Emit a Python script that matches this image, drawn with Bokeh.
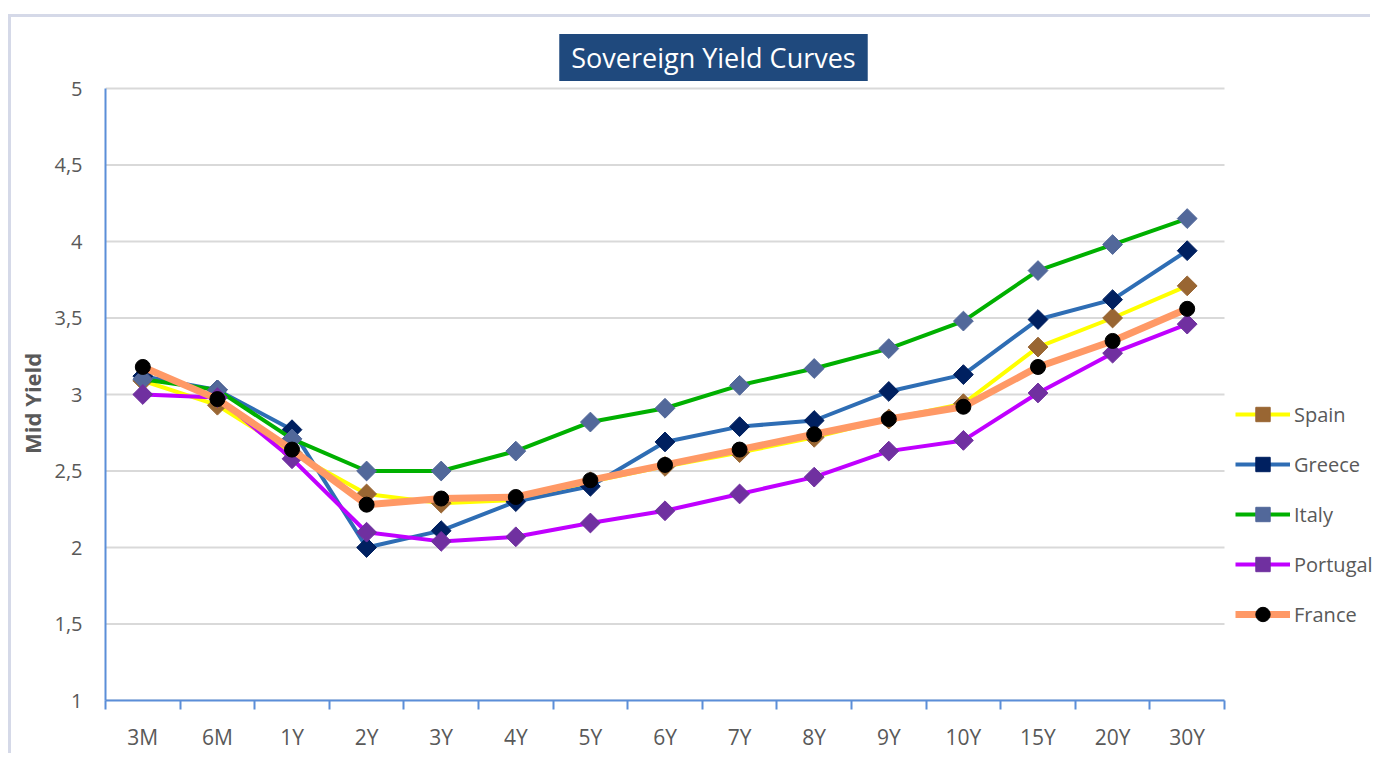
from bokeh.plotting import figure
from bokeh.models import (Range1d, FixedTicker, CustomJSTickFormatter, Legend, LegendItem,
                          ColumnDataSource, Label)
from bokeh.embed import file_html
from bokeh.resources import INLINE

tenors = ["3M", "6M", "1Y", "2Y", "3Y", "4Y", "5Y", "6Y", "7Y", "8Y", "9Y", "10Y", "15Y", "20Y", "30Y"]
spain =    [3.09, 2.93, 2.62, 2.35, 2.29, 2.31, 2.43, 2.53, 2.62, 2.72, 2.84, 2.94, 3.31, 3.50, 3.71]
greece =   [3.12, 3.03, 2.77, 2.00, 2.11, 2.30, 2.40, 2.69, 2.79, 2.83, 3.02, 3.13, 3.49, 3.62, 3.94]
italy =    [3.10, 3.03, 2.71, 2.50, 2.50, 2.63, 2.82, 2.91, 3.06, 3.17, 3.30, 3.48, 3.81, 3.98, 4.15]
portugal = [3.00, 2.98, 2.58, 2.10, 2.04, 2.07, 2.16, 2.24, 2.35, 2.46, 2.63, 2.70, 3.01, 3.27, 3.46]
france =   [3.18, 2.97, 2.64, 2.28, 2.32, 2.33, 2.44, 2.54, 2.64, 2.74, 2.84, 2.92, 3.18, 3.35, 3.56]
y_ticks = [1, 1.5, 2, 2.5, 3, 3.5, 4, 4.5, 5]
y_labels = ["1", "1,5", "2", "2,5", "3", "3,5", "4", "4,5", "5"]

FONT = "Open Sans"
TXT = "#595959"
AX = "#5b8ed8"
BORDER = "#d5d9e8"

n = len(tenors)
xs = [i + 0.5 for i in range(n)]

# pixel geometry (screen) used to set ranges so that the plot area matches
PX_PER_Y = 153.0      # pixels per 1.0 of yield
PX_PER_X = 74.6       # pixels per tenor slot
Y_TOP_EXTRA = (88 - 20) / PX_PER_Y
X_RIGHT_EXTRA = (1373 - 1224) / PX_PER_X

p = figure(width=1362, height=739, output_backend="svg", toolbar_location=None,
           x_range=Range1d(0, n + X_RIGHT_EXTRA), y_range=Range1d(1, 5 + Y_TOP_EXTRA),
           min_border_left=94, min_border_right=0, min_border_top=3, min_border_bottom=56)
p.styles = {"margin-top": "17px", "margin-left": "11px",
            "box-shadow": f"-3px -3px 0 0 {BORDER}"}
p.outline_line_color = None
p.background_fill_color = "white"
p.border_fill_color = "white"

# axes
p.xaxis.bounds = (0, n)
p.xaxis.ticker = FixedTicker(ticks=xs, minor_ticks=list(range(n + 1)))
p.xaxis.formatter = CustomJSTickFormatter(args=dict(labels=tenors),
                                          code="return labels[Math.floor(tick)] || '';")
p.xaxis.major_tick_line_color = None
p.xaxis.major_tick_out = 0
p.xaxis.major_tick_in = 0
p.xaxis.minor_tick_out = 9
p.xaxis.minor_tick_in = 0
p.xaxis.minor_tick_line_color = AX
p.xaxis.minor_tick_line_width = 2
p.xaxis.axis_line_color = AX
p.xaxis.axis_line_width = 2
p.xaxis.major_label_standoff = 13
p.xaxis.major_label_text_font = FONT
p.xaxis.major_label_text_font_size = "21px"
p.xaxis.major_label_text_color = TXT

p.yaxis.bounds = (1, 5)
p.yaxis.ticker = FixedTicker(ticks=y_ticks)
p.yaxis.major_label_overrides = {t: l for t, l in zip(y_ticks, y_labels)}
p.yaxis.major_tick_line_color = None
p.yaxis.major_tick_out = 0
p.yaxis.major_tick_in = 0
p.yaxis.minor_tick_line_color = None
p.yaxis.axis_line_color = AX
p.yaxis.axis_line_width = 2
p.yaxis.major_label_standoff = 23
p.yaxis.major_label_text_font = FONT
p.yaxis.major_label_text_font_size = "20px"
p.yaxis.major_label_text_color = TXT
# trailing no-break spaces centre the visible words on the 1..5 span
p.yaxis.axis_label = "Mid Yield" + "\u00a0" * 15
p.yaxis.axis_label_text_font = FONT
p.yaxis.axis_label_text_font_size = "22px"
p.yaxis.axis_label_text_font_style = "bold"
p.yaxis.axis_label_text_color = TXT
p.yaxis.axis_label_standoff = 4

# horizontal grid lines limited to the tenor span
p.xgrid.grid_line_color = None
p.ygrid.grid_line_color = None
grid_src = ColumnDataSource(dict(x0=[0] * len(y_ticks), x1=[n] * len(y_ticks), y=y_ticks))
p.segment(x0="x0", x1="x1", y0="y", y1="y", source=grid_src,
          line_color="#d9d9d9", line_width=2, level="underlay")

series = [
    ("Spain", spain, "#ffff00", 4, "square", "#996633", 14),
    ("Greece", greece, "#2e6db4", 4, "square", "#002060", 14),
    ("Italy", italy, "#00b000", 4, "square", "#52689a", 14),
    ("Portugal", portugal, "#c000ff", 4, "square", "#7030a0", 14),
    ("France", france, "#ff9966", 7, "circle", "#000000", 15),
]

items = []
for name, vals, lc, lw, mk, mc, ms in series:
    src = ColumnDataSource(dict(x=xs, y=vals))
    r1 = p.line("x", "y", source=src, line_color=lc, line_width=lw)
    ang = 0.785398 if mk == "square" else 0
    r2 = p.scatter("x", "y", source=src, marker=mk, size=ms, angle=ang,
                   fill_color=mc, line_color=mc)
    items.append(LegendItem(label=name, renderers=[r1, r2]))

legend = Legend(items=items, location=(1130, 68), orientation="vertical")
legend.background_fill_alpha = 0
legend.border_line_color = None
legend.label_text_font = FONT
legend.label_text_font_size = "20px"
legend.label_text_color = TXT
legend.glyph_width = 55
legend.glyph_height = 36
legend.spacing = 14
legend.padding = 0
legend.margin = 0
legend.label_standoff = 4
p.add_layout(legend, "center")

title = Label(x=(713 - 105) / PX_PER_X, y=5 + (88 - 57) / PX_PER_Y,
              text="Sovereign Yield Curves",
              text_font=FONT, text_font_size="27px", text_color="white",
              text_align="center", text_baseline="middle",
              background_fill_color="#1f497d", padding=(12, 5))
p.add_layout(title)

open("out.html", "w").write(file_html(p, INLINE))
